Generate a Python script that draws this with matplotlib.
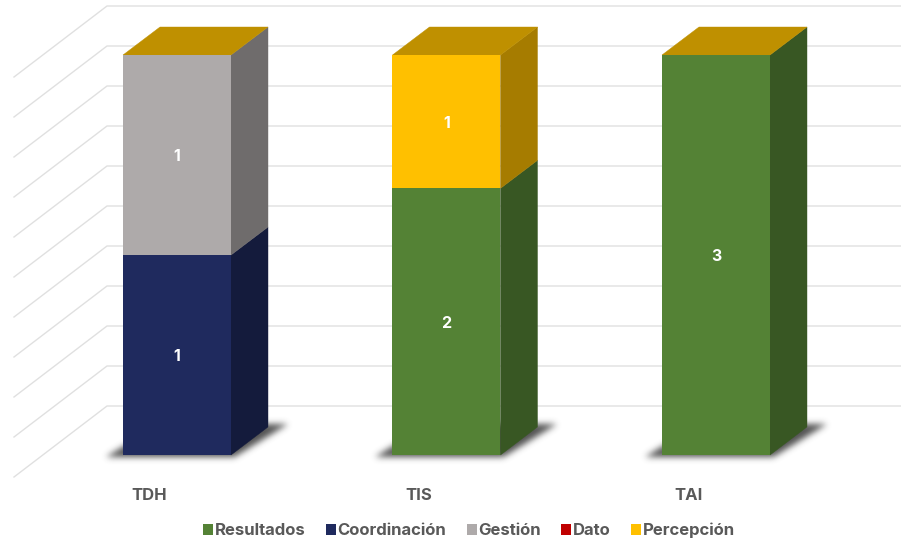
import numpy as np
import matplotlib
matplotlib.use("Agg")
import matplotlib.pyplot as plt
from matplotlib.patches import Polygon
from matplotlib.path import Path

categories = ["TDH", "TIS", "TAI"]
series_names = ["Resultados", "Coordinación", "Gestión", "Dato", "Percepción"]
resultados = [0, 2, 3]
coordinacion = [1, 0, 0]
gestion = [1, 0, 0]
dato = [0, 0, 0]
percepcion = [0, 1, 0]
front_colors = ["#548235", "#1F2A5E", "#AEAAAA", "#C00000", "#FFC000"]
side_colors = ["#385723", "#141B3C", "#6F6C6C", "#800000", "#A67C00"]
top_color = "#BF9000"

W, H = 901, 541
fig = plt.figure(figsize=(W / 100, H / 100), dpi=100)
BASE_PX, TOP_PX = 455, 55
ax = fig.add_axes([0, 1 - BASE_PX / H, 1, (BASE_PX - 6) / H])
PX_X = 269.5
x = np.arange(len(categories))
xlim = (-177 / PX_X, (W - 177) / PX_X)
PX_Y = (BASE_PX - TOP_PX) / 100
ylim = (0, (BASE_PX - 6) / PX_Y)
ax.set_xlim(*xlim)
ax.set_ylim(*ylim)

font = ["Inter", "DejaVu Sans"]
text_col = "#595959"

def dx(px): return px / PX_X
def dy(px): return px / PX_Y

# slanted wall and grid
for tick in np.arange(0, 101, 10):
    y0 = tick + dy(BASE_PX - 406)
    xs = [dx(14 - 177), dx(107 - 177), xlim[1]]
    ys = [y0 - dy(71), y0, y0]
    ax.plot(xs, ys, color="#E0E0E0", lw=1.0, zorder=1, clip_on=False, solid_joinstyle="miter")

stack = np.array([resultados, coordinacion, gestion, dato, percepcion], dtype=float)
totals = stack.sum(axis=0)
pct = stack / totals * 100
BAR_W = 108 / PX_X
DEPTH_X, DEPTH_Y = dx(37), dy(28)

# soft floor shadows, rendered as a blurred raster in data coordinates
def blur(a, sigma):
    r = int(3 * sigma)
    k = np.exp(-0.5 * (np.arange(-r, r + 1) / sigma) ** 2)
    k /= k.sum()
    a = np.apply_along_axis(lambda c: np.convolve(c, k, mode="same"), 0, a)
    return np.apply_along_axis(lambda c: np.convolve(c, k, mode="same"), 1, a)

for xi in x:
    l, r = xi - BAR_W / 2, xi + BAR_W / 2
    poly = Path([(l - dx(18), -dy(2.5)), (r + dx(3), -dy(2.5)), (r + DEPTH_X + dx(20), DEPTH_Y + dy(3)),
                 (l + DEPTH_X, DEPTH_Y + dy(3))])
    ext = (l - dx(50), r + DEPTH_X + dx(50), -dy(30), DEPTH_Y + dy(30))
    nx, ny = int((ext[1] - ext[0]) * PX_X), int((ext[3] - ext[2]) * PX_Y)
    gx, gy = np.meshgrid(np.linspace(ext[0], ext[1], nx), np.linspace(ext[2], ext[3], ny))
    mask = poly.contains_points(np.c_[gx.ravel(), gy.ravel()]).reshape(gx.shape).astype(float)
    soft = blur(mask, 3.2)
    rgba = np.zeros(gx.shape + (4,))
    rgba[..., :3] = 0.25
    rgba[..., 3] = np.clip(soft * 0.9, 0, 1)
    ax.imshow(rgba, extent=ext, origin="lower", aspect="auto", zorder=2, clip_on=False,
              interpolation="bilinear")
ax.set_xlim(*xlim)
ax.set_ylim(*ylim)

bottom = np.zeros(len(categories))
for name, vals, raw, fc, sc in zip(series_names, pct, stack, front_colors, side_colors):
    bars = ax.bar(x, vals, BAR_W, bottom=bottom, color=fc, label=name, zorder=4, lw=0)
    for rect, v, r in zip(bars, vals, raw):
        if r <= 0:
            continue
        x1 = rect.get_x() + rect.get_width()
        y0, y1 = rect.get_y(), rect.get_y() + rect.get_height()
        ax.add_patch(Polygon([(x1, y0), (x1 + DEPTH_X, y0 + DEPTH_Y),
                              (x1 + DEPTH_X, y1 + DEPTH_Y), (x1, y1)],
                             closed=True, fc=sc, ec=sc, lw=0.3, zorder=3, clip_on=False))
        ax.text(rect.get_x() + rect.get_width() / 2, (y0 + y1) / 2 - dy(1.5), f"{int(r)}",
                color="white", ha="center", va="center", fontsize=11.5,
                fontweight="bold", family=font, zorder=6)
    bottom += vals

for xi, tot in zip(x, bottom):
    l, r = xi - BAR_W / 2, xi + BAR_W / 2
    ax.add_patch(Polygon([(l, tot), (r, tot), (r + DEPTH_X, tot + DEPTH_Y), (l + DEPTH_X, tot + DEPTH_Y)],
                         closed=True, fc=top_color, ec=top_color, lw=0.3, zorder=3, clip_on=False))

ax.set_yticks([])
ax.set_xticks(x - dx(27.5), categories)
ax.tick_params(axis="x", length=0, pad=24)
for lab in ax.get_xticklabels():
    lab.set_family(font)
    lab.set_fontweight("bold")
    lab.set_fontsize(12)
    lab.set_color(text_col)
for s in ax.spines.values():
    s.set_visible(False)
ax.patch.set_alpha(0)

leg = fig.legend(*ax.get_legend_handles_labels(), loc="center", bbox_to_anchor=(469 / W, 1 - 530.5 / H),
                 ncol=5, frameon=False, handlelength=0.62, handleheight=0.62, handletextpad=0.1,
                 columnspacing=1.2, prop={"family": font, "weight": "bold", "size": 12},
                 labelcolor=text_col)

fig.savefig("out.png", dpi=100)
